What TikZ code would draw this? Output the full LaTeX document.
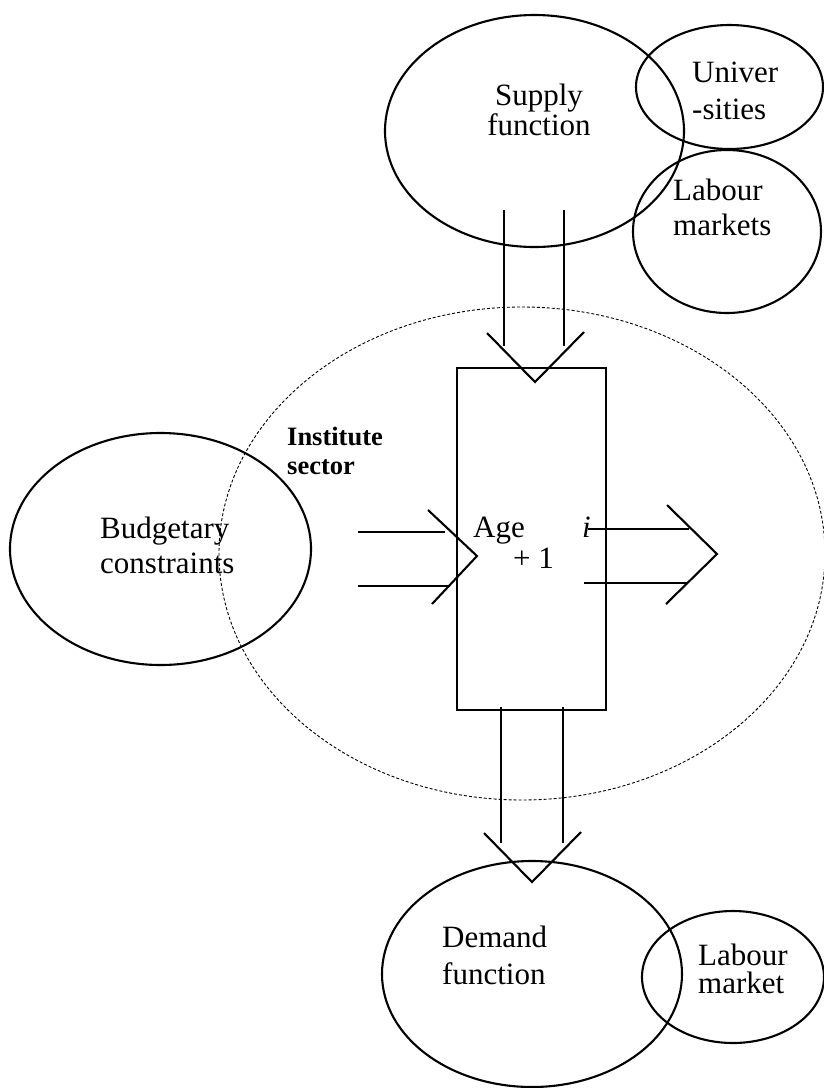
\documentclass[tikz,border=0pt]{standalone}
\usepackage{fontspec}
\setmainfont{Liberation Serif}
\usetikzlibrary{shapes.geometric}
\begin{document}
\begin{tikzpicture}[x=1pt,y=-1pt,
  oval/.style={draw, ellipse, line width=2.1pt, inner sep=0pt},
  sectoroval/.style={draw, ellipse, line width=0.9pt, dash pattern=on 3pt off 2pt, inner sep=0pt},
  lbl/.style={inner sep=0pt, align=left, anchor=north west},
  one/.style={inner sep=0pt, anchor=base west, font=\fontsize{31}{35}\selectfont},
  arr/.style={line width=2.1pt},
  box/.style={draw, line width=2.1pt, inner sep=0pt}]
\useasboundingbox (0,0) rectangle (824,1088);

% institute sector (dashed)
\node[sectoroval, minimum width=606pt, minimum height=493pt] (inst) at (522,553.5) {};

% ellipses
\node[oval, minimum width=299pt, minimum height=232pt] (supply) at (534.5,131) {};
\node[oval, minimum width=187pt, minimum height=124pt] (univ) at (729.5,87) {};
\node[oval, minimum width=188pt, minimum height=163pt] (labs) at (727,231.5) {};
\node[oval, minimum width=301pt, minimum height=232pt] (budget) at (160.5,549) {};
\node[oval, minimum width=300pt, minimum height=226pt] (demand) at (532,974) {};
\node[oval, minimum width=182pt, minimum height=132pt] (labm) at (733,977) {};

% central box
\node[box, minimum width=149pt, minimum height=342pt] (agebox) at (531.5,539) {};

% labels
\node[lbl, align=center, anchor=north, font=\fontsize{31}{30}\selectfont] (tsupply) at (539,84) {Supply\\function};
\node[lbl, font=\fontsize{31}{37}\selectfont] (tuniv) at (692,62) {Univer\\-sities};
\node[lbl, font=\fontsize{31}{35}\selectfont] (tlabs) at (673,179) {Labour\\markets};
\node[lbl, font=\fontsize{31}{35}\selectfont] (tbudget) at (100,517) {Budgetary\\constraints};
\node[lbl, font=\fontsize{31}{37}\selectfont] (tdemand) at (442,926) {Demand\\function};
\node[lbl, font=\fontsize{31}{28}\selectfont] (tlabm) at (698,944) {Labour\\market};
\node[lbl, font=\bfseries\fontsize{26.5}{29}\selectfont] (tinst) at (287,427) {Institute\\sector};
\node[one] (tage) at (473,537) {Age};
\node[one] (ti) at (582,537) {\itshape i};
\node[one] (tplus) at (513,568) {+ 1};

% top arrow: supply -> box
\coordinate (tA1) at (504,210); \coordinate (tA2) at (504,346);
\coordinate (tB1) at (564,210); \coordinate (tB2) at (564,346);
\coordinate (tL) at (487,333); \coordinate (tT) at (535,382); \coordinate (tR) at (584,332);
\draw[arr] (tA1) -- (tA2);
\draw[arr] (tB1) -- (tB2);
\draw[arr] (tL) -- (tT) -- (tR);

% left arrow: budget -> box
\coordinate (lA1) at (358,532); \coordinate (lA2) at (445,532);
\coordinate (lB1) at (358,586); \coordinate (lB2) at (450,586);
\coordinate (lU) at (428,510); \coordinate (lT) at (477,556); \coordinate (lD) at (432,604);
\draw[arr] (lA1) -- (lA2);
\draw[arr] (lB1) -- (lB2);
\draw[arr] (lU) -- (lT) -- (lD);

% right arrow: box -> out
\coordinate (rA1) at (588,529); \coordinate (rA2) at (689,529);
\coordinate (rB1) at (584,583); \coordinate (rB2) at (687,583);
\coordinate (rU) at (667,505); \coordinate (rT) at (717,554); \coordinate (rD) at (666,604);
\draw[arr] (rA1) -- (rA2);
\draw[arr] (rB1) -- (rB2);
\draw[arr] (rU) -- (rT) -- (rD);

% bottom arrow: box -> demand
\coordinate (bA1) at (501,707); \coordinate (bA2) at (501,843);
\coordinate (bB1) at (563,707); \coordinate (bB2) at (563,843);
\coordinate (bL) at (484,833); \coordinate (bT) at (532,882); \coordinate (bR) at (581,832);
\draw[arr] (bA1) -- (bA2);
\draw[arr] (bB1) -- (bB2);
\draw[arr] (bL) -- (bT) -- (bR);
\end{tikzpicture}
\end{document}
